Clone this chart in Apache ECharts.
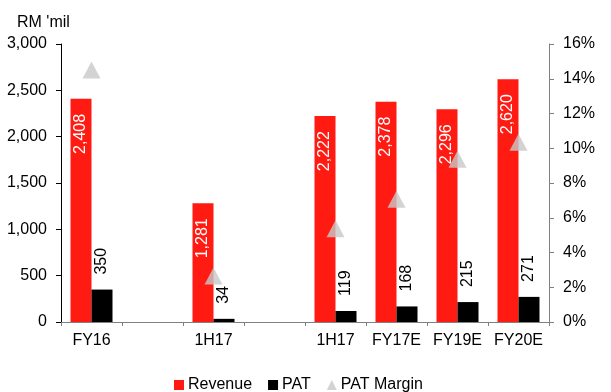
<!DOCTYPE html>
<html>
<head>
<meta charset="utf-8">
<script src="https://cdn.jsdelivr.net/npm/echarts@6/dist/echarts.min.js"></script>
<style>
  html, body { margin: 0; padding: 0; background: #fff; }
  #chart { width: 611px; height: 392px; }
</style>
</head>
<body>
<div id="chart"></div>
<script>
// Periods (blank slots separate the historic and interim groups)
const categories = ['FY16', '', '1H17', '', '1H17', 'FY17E', 'FY19E', 'FY20E'];
const revenue = [2408, null, 1281, null, 2222, 2378, 2296, 2620];
const pat = [350, null, 34, null, 119, 168, 215, 271];
const patMargin = [14.5, null, 2.65, null, 5.36, 7.06, 9.36, 10.34];
const leftTicks = [0, 500, 1000, 1500, 2000, 2500, 3000];

const FONT = 'Liberation Sans, Arial, sans-serif';
const FS = 16;
const chart = echarts.init(document.getElementById('chart'));

chart.setOption({
  animation: false,
  textStyle: { fontFamily: FONT },
  grid: { left: 61, right: 62, top: 44, bottom: 70 },
  title: {
    text: "RM 'mil", left: 12, top: 10,
    textStyle: { fontSize: FS, fontWeight: 'normal', color: '#000', fontFamily: FONT }
  },
  legend: {
    top: 372, left: 169, itemGap: 16, itemWidth: 10, itemHeight: 10,
    textStyle: { fontSize: FS, color: '#000', fontFamily: FONT, padding: [0, 0, 0, -1] },
    data: [
      { name: 'Revenue', icon: 'rect' },
      { name: 'PAT', icon: 'rect' },
      { name: 'PAT Margin', icon: 'triangle' }
    ]
  },
  xAxis: {
    type: 'category', data: categories,
    axisLine: { lineStyle: { color: '#808080', width: 1 } },
    axisTick: { show: true, length: 4, lineStyle: { color: '#808080' } },
    axisLabel: { fontSize: FS, color: '#000', margin: 11, fontFamily: FONT, interval: 0 }
  },
  yAxis: [
    {
      type: 'value', min: 0, max: 3000, interval: 500,
      axisLine: { show: true, lineStyle: { color: '#000' } },
      axisTick: { show: true, length: 5, lineStyle: { color: '#000' } },
      splitLine: { show: false },
      axisLabel: {
        fontSize: FS, color: '#000', margin: 14, fontFamily: FONT,
        formatter: v => leftTicks.includes(v) ? v.toLocaleString('en-US') : ''
      }
    },
    {
      type: 'value', min: 0, max: 16, interval: 2, position: 'right',
      axisLine: { show: true, lineStyle: { color: '#808080' } },
      axisTick: { show: true, length: 5, lineStyle: { color: '#808080' } },
      splitLine: { show: false },
      axisLabel: { fontSize: FS, color: '#000', margin: 14, fontFamily: FONT, formatter: '{value}%' }
    }
  ],
  series: [
    {
      name: 'Revenue', type: 'bar', data: revenue, barWidth: 21, barGap: '0%',
      itemStyle: { color: '#ff1a12' },
      label: {
        show: true, position: 'insideTop', rotate: 90, distance: 15,
        align: 'right', verticalAlign: 'middle',
        color: '#fff', fontSize: FS, fontFamily: FONT,
        formatter: p => p.value.toLocaleString('en-US')
      }
    },
    {
      name: 'PAT', type: 'bar', data: pat, barWidth: 21, barGap: '0%',
      itemStyle: { color: '#000' },
      label: {
        show: true, position: 'top', rotate: 90, distance: 15,
        align: 'left', verticalAlign: 'middle',
        color: '#000', fontSize: FS, fontFamily: FONT,
        formatter: p => p.value.toLocaleString('en-US')
      }
    },
    {
      name: 'PAT Margin', type: 'scatter', yAxisIndex: 1, data: patMargin,
      symbol: 'triangle', symbolSize: [18, 17],
      itemStyle: { color: '#c8c8c8' },
      z: 5
    }
  ]
});
</script>
</body>
</html>
